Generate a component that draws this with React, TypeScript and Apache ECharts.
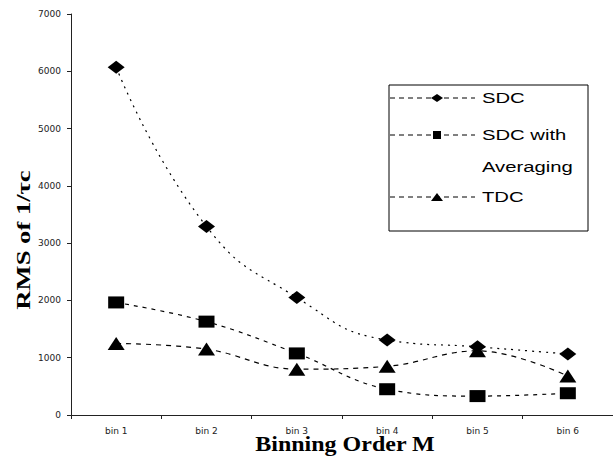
import React, { useEffect, useRef } from "react";
import * as echarts from "echarts";

const categories = ["bin 1", "bin 2", "bin 3", "bin 4", "bin 5", "bin 6"];
const sdc = [6070, 3290, 2050, 1310, 1190, 1065];
const sdcAvg = [1965, 1630, 1075, 450, 330, 380];
const tdc = [1250, 1150, 800, 850, 1120, 680];
const seriesNames = ["SDC", "SDC with Averaging", "TDC"];

export default function App() {
  const ref = useRef<HTMLDivElement>(null);
  useEffect(() => {
    if (!ref.current) return;
    const chart = echarts.init(ref.current, null, { renderer: "svg" });
    const lx = 437;
    const legendItem = (y: number, marker: any) => [
      {
        type: "line",
        shape: { x1: 390, y1: y, x2: 475, y2: y },
        style: { stroke: "#000", lineWidth: 1, lineDash: [5, 4] },
      },
      marker,
    ];
    const legendText = (text: string, y: number) => ({
      type: "text",
      x: 482,
      y,
      scaleX: 1.35,
      style: {
        text,
        x: 0,
        y: 0,
        fill: "#000",
        font: "15px 'Liberation Sans', Arial, sans-serif",
        textAlign: "left",
        textVerticalAlign: "middle",
      },
    });
    chart.setOption({
      animation: false,
      backgroundColor: "#fff",
      grid: { left: 71, top: 14, width: 546, height: 401 },
      xAxis: {
        type: "category",
        data: categories,
        boundaryGap: true,
        axisLine: { lineStyle: { color: "#222", width: 1 } },
        axisTick: { show: true, length: 4, lineStyle: { color: "#222" } },
        axisLabel: {
          margin: 11,
          fontSize: 9,
          color: "#222",
          fontFamily: "'DejaVu Sans', sans-serif",
        },
        splitLine: { show: false },
      },
      yAxis: {
        type: "value",
        min: 0,
        max: 7000,
        interval: 1000,
        axisLine: { show: true, lineStyle: { color: "#222", width: 1 } },
        axisTick: { show: true, length: 4, lineStyle: { color: "#222" } },
        axisLabel: {
          margin: 10,
          fontSize: 9,
          color: "#222",
          fontFamily: "'DejaVu Sans', sans-serif",
          formatter: (v: number) => String(v),
        },
        splitLine: { show: false },
      },
      series: [
        {
          name: seriesNames[0],
          type: "line",
          data: sdc,
          smooth: 0.5,
          symbol: "diamond",
          symbolSize: [17, 13],
          itemStyle: { color: "#000" },
          lineStyle: { color: "#000", width: 1.2, type: [2, 5] },
        },
        {
          name: seriesNames[1],
          type: "line",
          data: sdcAvg,
          smooth: 0.4,
          symbol: "rect",
          symbolSize: [16, 12],
          itemStyle: { color: "#000" },
          lineStyle: { color: "#000", width: 1.2, type: [4, 5] },
        },
        {
          name: seriesNames[2],
          type: "line",
          data: tdc,
          smooth: 0.4,
          symbol: "triangle",
          symbolSize: [17, 13],
          itemStyle: { color: "#000" },
          lineStyle: { color: "#000", width: 1.2, type: [5, 5] },
        },
      ],
      graphic: [
        {
          type: "rect",
          shape: { x: 389, y: 85, width: 199, height: 146 },
          style: { fill: "#fff", stroke: "#000", lineWidth: 1 },
          z: 10,
        },
        ...legendItem(98, {
          type: "polygon",
          shape: { points: [[lx - 6, 98], [lx, 94], [lx + 6, 98], [lx, 102]] },
          style: { fill: "#000" },
        }).map((e: any) => ({ ...e, z: 11 })),
        ...legendItem(135, {
          type: "rect",
          shape: { x: lx - 4, y: 131, width: 8, height: 8 },
          style: { fill: "#000" },
        }).map((e: any) => ({ ...e, z: 11 })),
        ...legendItem(197, {
          type: "polygon",
          shape: { points: [[lx - 6, 201], [lx, 193], [lx + 6, 201]] },
          style: { fill: "#000" },
        }).map((e: any) => ({ ...e, z: 11 })),
        { ...legendText("SDC", 98), z: 11 },
        { ...legendText("SDC with", 135), z: 11 },
        { ...legendText("Averaging", 167), z: 11 },
        { ...legendText("TDC", 197), z: 11 },
        {
          type: "text",
          x: 345,
          y: 444,
          scaleX: 1.2,
          style: {
            text: "Binning Order M",
            x: 0,
            y: 0,
            fill: "#000",
            font: "bold 20px 'Liberation Serif', 'Times New Roman', serif",
            textAlign: "center",
            textVerticalAlign: "middle",
          },
        },
        {
          type: "text",
          x: 23,
          y: 240,
          rotation: Math.PI / 2,
          scaleX: 1.4,
          style: {
            text: "RMS of 1/τc",
            x: 0,
            y: 0,
            fill: "#000",
            font: "bold 19px 'Liberation Serif', 'Times New Roman', serif",
            textAlign: "center",
            textVerticalAlign: "middle",
          },
        },
      ],
    });
    return () => chart.dispose();
  }, []);
  return (
    <div
      ref={ref}
      style={{ position: "absolute", left: 0, top: 0, width: 613, height: 461 }}
    />
  );
}
